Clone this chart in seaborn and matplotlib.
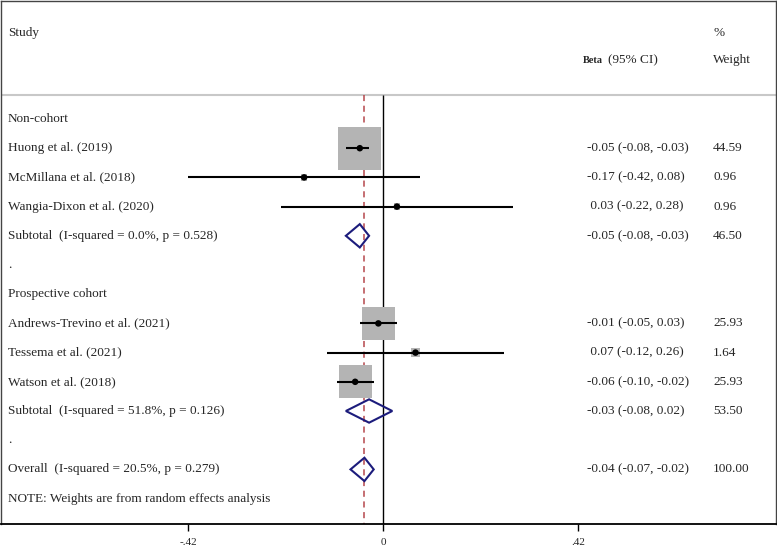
import matplotlib
matplotlib.use("Agg")
import matplotlib.pyplot as plt
from matplotlib.patches import Polygon
import numpy as np
import pandas as pd
import seaborn as sns

# study rows (row index = line in the table)
study_names = ["Huong et al. (2019)", "McMillana et al. (2018)", "Wangia-Dixon et al. (2020)",
               "Andrews-Trevino et al. (2021)", "Tessema et al. (2021)", "Watson et al. (2018)"]
study_rows = [1, 2, 3, 7, 8, 9]
study_beta = [-0.05, -0.17, 0.03, -0.01, 0.07, -0.06]
study_lo = [-0.08, -0.42, -0.22, -0.05, -0.12, -0.10]
study_hi = [-0.03, 0.08, 0.28, 0.03, 0.26, -0.02]
study_weight = [44.59, 0.96, 0.96, 25.93, 1.64, 25.93]

# pooled rows (subtotals and overall)
pool_names = ["Subtotal  (I-squared = 0.0%, p = 0.528)",
              "Subtotal  (I-squared = 51.8%, p = 0.126)",
              "Overall  (I-squared = 20.5%, p = 0.279)"]
pool_rows = [4, 10, 12]
pool_beta = [-0.05, -0.03, -0.04]
pool_lo = [-0.08, -0.08, -0.07]
pool_hi = [-0.03, 0.02, -0.02]
pool_weight = [46.50, 53.50, 100.00]

group_names = ["Non-cohort", "Prospective cohort"]
group_rows = [0, 6]
dot_rows = [5, 11]
note = "NOTE: Weights are from random effects analysis"
note_row = 13

tick_vals = [-0.42, 0, 0.42]
tick_labels = ["-.42", "0", ".42"]

sns.set_style("white")
plt.rcParams["font.family"] = ["Liberation Serif", "DejaVu Serif"]

W, H = 777, 548
fig = plt.figure(figsize=(W / 100, H / 100), dpi=100)
ax = fig.add_axes([1 / W, (H - 524) / H, 775 / W, 523 / H])

# pixel layout helpers
x0_px, scale_px = 383, 464
y0_px, row_px = 119, 29.2


def px2x(p):
    return (p - x0_px) / scale_px


def px2y(p):
    return (p - y0_px) / row_px


def ci_text(b, lo, hi):
    s = f"{b:.2f} ({lo:.2f}, {hi:.2f})"
    return s if b < 0 else " " + s


ax.set_xlim(px2x(1), px2x(776))
ax.set_ylim(px2y(524), px2y(1))

sep = px2y(95)
bottom = px2y(524)
ax.axhline(sep, color="#c8c8c8", lw=1.5)
ax.vlines(0, sep, bottom, color="black", lw=1.0)
ax.vlines(pool_beta[-1], sep, bottom, color="#b5474b", lw=1.1, linestyles=(0, (4, 3)))

# weight boxes
side_px = 43 * np.sqrt(np.array(study_weight) / 44.59)
ax.scatter(study_beta, study_rows, s=(side_px * 0.72) ** 2, marker="s",
           color="#b4b4b4", edgecolor="none", zorder=2)
ax.hlines(study_rows, study_lo, study_hi, color="black", lw=1.5, zorder=3)
df = pd.DataFrame({"beta": study_beta, "row": study_rows})
sns.scatterplot(data=df, x="beta", y="row", color="black", s=22, edgecolor="none",
                zorder=4, ax=ax, legend=False)

# diamonds
for r, b, lo, hi in zip(pool_rows, pool_beta, pool_lo, pool_hi):
    h = 0.4
    ax.add_patch(Polygon([(lo, r), (b, r - h), (hi, r), (b, r + h)], closed=True,
                         fill=False, edgecolor="#1c1c7c", lw=1.5, zorder=5))

fs = 9.5
tx = px2x(8)
bx = px2x(587)
wx = px2x(713)

ax.text(tx, px2y(33), "Study", fontsize=fs, va="center")
ax.text(wx, px2y(33), "%", fontsize=fs, va="center")
ax.text(px2x(583), px2y(61), "Beta", fontsize=7.5, fontweight="bold", va="center")
ax.text(px2x(608), px2y(60), "(95% CI)", fontsize=fs, va="center")
ax.text(wx, px2y(60), "Weight", fontsize=fs, va="center")

for name, r in zip(group_names, group_rows):
    ax.text(tx, r, name, fontsize=fs, va="center")
for r in dot_rows:
    ax.text(tx, r, ".", fontsize=fs, va="center")
for name, r, b, lo, hi, w in zip(study_names, study_rows, study_beta, study_lo, study_hi, study_weight):
    ax.text(tx, r, name, fontsize=fs, va="center")
    ax.text(bx, r, ci_text(b, lo, hi), fontsize=fs, va="center")
    ax.text(wx, r, f"{w:.2f}", fontsize=fs, va="center")
for name, r, b, lo, hi, w in zip(pool_names, pool_rows, pool_beta, pool_lo, pool_hi, pool_weight):
    ax.text(tx, r, name, fontsize=fs, va="center")
    ax.text(bx, r, ci_text(b, lo, hi), fontsize=fs, va="center")
    ax.text(wx, r, f"{w:.2f}", fontsize=fs, va="center")
ax.text(tx, note_row, note, fontsize=fs, va="center")

ax.set_xticks(tick_vals)
ax.set_xticklabels(tick_labels, fontsize=8)
ax.set_yticks([])
ax.set_xlabel("")
ax.set_ylabel("")
ax.tick_params(axis="x", direction="out", length=5, width=1, color="black", pad=5, bottom=True)
for s in ["left", "right", "top"]:
    ax.spines[s].set_color("#444444")
    ax.spines[s].set_linewidth(1.0)
ax.spines["bottom"].set_color("black")
ax.spines["bottom"].set_linewidth(1.3)

fig.savefig("out.png", dpi=100)
